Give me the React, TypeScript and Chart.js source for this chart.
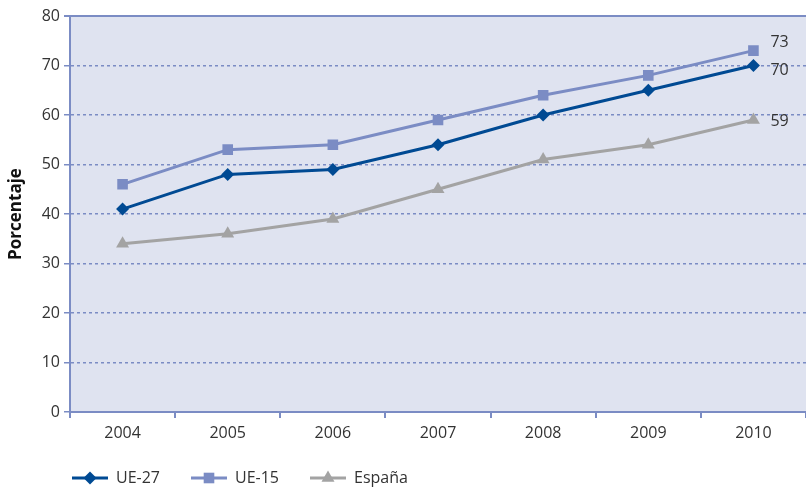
import React, { useEffect, useRef } from "react";
import { Chart, registerables } from "chart.js";
Chart.register(...registerables);

const years = ["2004", "2005", "2006", "2007", "2008", "2009", "2010"];
const ue27 = [41, 48, 49, 54, 60, 65, 70];
const ue15 = [46, 53, 54, 59, 64, 68, 73];
const espana = [34, 36, 39, 45, 51, 54, 59];
const seriesNames = ["UE-27", "UE-15", "España"];
const yMin = 0;
const yMax = 80;
const yStep = 10;

const C27 = "#004a93";
const C15 = "#7b8cc4";
const CES = "#a3a3a3";
const AXIS = "#7b8cc4";
const TEXT = "#333333";
const FONT = "'Open Sans', 'Noto Sans', sans-serif";

const bgPlugin = {
  id: "bgPlugin",
  beforeDraw(chart: any) {
    const { ctx, chartArea } = chart;
    ctx.save();
    ctx.fillStyle = "#dfe3f0";
    ctx.fillRect(chartArea.left, chartArea.top, chartArea.right - chartArea.left, chartArea.bottom - chartArea.top);
    ctx.restore();
  },
  afterDraw(chart: any) {
    const { ctx, chartArea } = chart;
    ctx.save();
    ctx.strokeStyle = AXIS;
    ctx.lineWidth = 2;
    ctx.beginPath();
    ctx.moveTo(chartArea.left - 6, chartArea.top);
    ctx.lineTo(chartArea.right, chartArea.top);
    ctx.stroke();
    ctx.restore();
  },
};

const endLabels = {
  id: "endLabels",
  afterDatasetsDraw(chart: any) {
    const { ctx } = chart;
    const dy = [5, -8, 1];
    ctx.save();
    ctx.font = `16px ${FONT}`;
    ctx.fillStyle = TEXT;
    ctx.textAlign = "left";
    ctx.textBaseline = "middle";
    chart.data.datasets.forEach((ds: any, i: number) => {
      const meta = chart.getDatasetMeta(i);
      const last = meta.data.length - 1;
      const el = meta.data[last];
      ctx.fillText(String(ds.data[last]), el.x + 17, el.y + dy[i]);
    });
    ctx.restore();
  },
};

function drawMarker(ctx: CanvasRenderingContext2D, style: string, x: number, y: number, r: number) {
  ctx.beginPath();
  if (style === "rectRot") {
    ctx.moveTo(x, y - r);
    ctx.lineTo(x + r, y);
    ctx.lineTo(x, y + r);
    ctx.lineTo(x - r, y);
    ctx.closePath();
  } else if (style === "rect") {
    const s = r * Math.SQRT1_2;
    ctx.rect(x - s, y - s, 2 * s, 2 * s);
  } else {
    const w = r * Math.sin(Math.PI / 3);
    ctx.moveTo(x, y - r);
    ctx.lineTo(x + w, y + r / 2);
    ctx.lineTo(x - w, y + r / 2);
    ctx.closePath();
  }
  ctx.fill();
}

const bottomLegend = {
  id: "bottomLegend",
  afterDraw(chart: any) {
    const { ctx } = chart;
    const y = 478;
    let x = 72;
    ctx.save();
    ctx.font = `16px ${FONT}`;
    ctx.textBaseline = "middle";
    ctx.textAlign = "left";
    chart.data.datasets.forEach((ds: any) => {
      ctx.strokeStyle = ds.borderColor;
      ctx.lineWidth = 3;
      ctx.beginPath();
      ctx.moveTo(x, y);
      ctx.lineTo(x + 36, y);
      ctx.stroke();
      ctx.fillStyle = ds.borderColor;
      drawMarker(ctx, ds.pointStyle, x + 18, y, ds.pointRadius);
      ctx.fillStyle = TEXT;
      ctx.fillText(ds.label, x + 44, y);
      const w = ctx.measureText(ds.label).width;
      x = x + 44 + w + 31;
    });
    ctx.restore();
  },
};

export default function App() {
  const ref = useRef<HTMLCanvasElement>(null);
  useEffect(() => {
    document.body.style.margin = "0";
    const chart = new Chart(ref.current!, {
      type: "line",
      data: {
        labels: years,
        datasets: [
          { label: seriesNames[0], data: ue27, borderColor: C27, backgroundColor: C27, borderWidth: 3, pointStyle: "rectRot", pointRadius: 6.5, pointBorderWidth: 0, tension: 0 },
          { label: seriesNames[1], data: ue15, borderColor: C15, backgroundColor: C15, borderWidth: 3, pointStyle: "rect", pointRadius: 7.5, pointBorderWidth: 0, tension: 0 },
          { label: seriesNames[2], data: espana, borderColor: CES, backgroundColor: CES, borderWidth: 3, pointStyle: "triangle", pointRadius: 7.5, pointBorderWidth: 0, tension: 0 },
        ],
      },
      options: {
        animation: false,
        responsive: true,
        maintainAspectRatio: false,
        layout: { autoPadding: false, padding: { top: 16, right: -3, bottom: 0, left: 0 } },
        plugins: { legend: { display: false }, tooltip: { enabled: false } },
        scales: {
          x: {
            offset: true,
            grid: { offset: true, drawOnChartArea: false, drawTicks: true, tickLength: 6, color: AXIS, lineWidth: 2 },
            border: { display: true, color: AXIS, width: 2 },
            ticks: { color: TEXT, font: { family: FONT, size: 16 }, padding: 6 },
            afterFit(scale: any) { scale.height = 80; },
          },
          y: {
            min: yMin,
            max: yMax,
            ticks: { stepSize: yStep, color: TEXT, font: { family: FONT, size: 16 }, padding: 4 },
            grid: { color: AXIS, lineWidth: 1.5, tickLength: 6, drawTicks: true, tickBorderDash: [] },
            border: { display: true, color: AXIS, width: 2, dash: [3, 3] },
            title: { display: true, text: "Porcentaje", color: "#111", font: { family: FONT, size: 17, weight: "bold" }, padding: { top: 6, bottom: 0 } },
            afterFit(scale: any) { scale.width = 70; },
          },
        },
      },
      plugins: [bgPlugin, endLabels, bottomLegend],
    } as any);
    return () => chart.destroy();
  }, []);
  return (
    <div style={{ width: 806, height: 492, position: "relative" }}>
      <canvas ref={ref} />
    </div>
  );
}
